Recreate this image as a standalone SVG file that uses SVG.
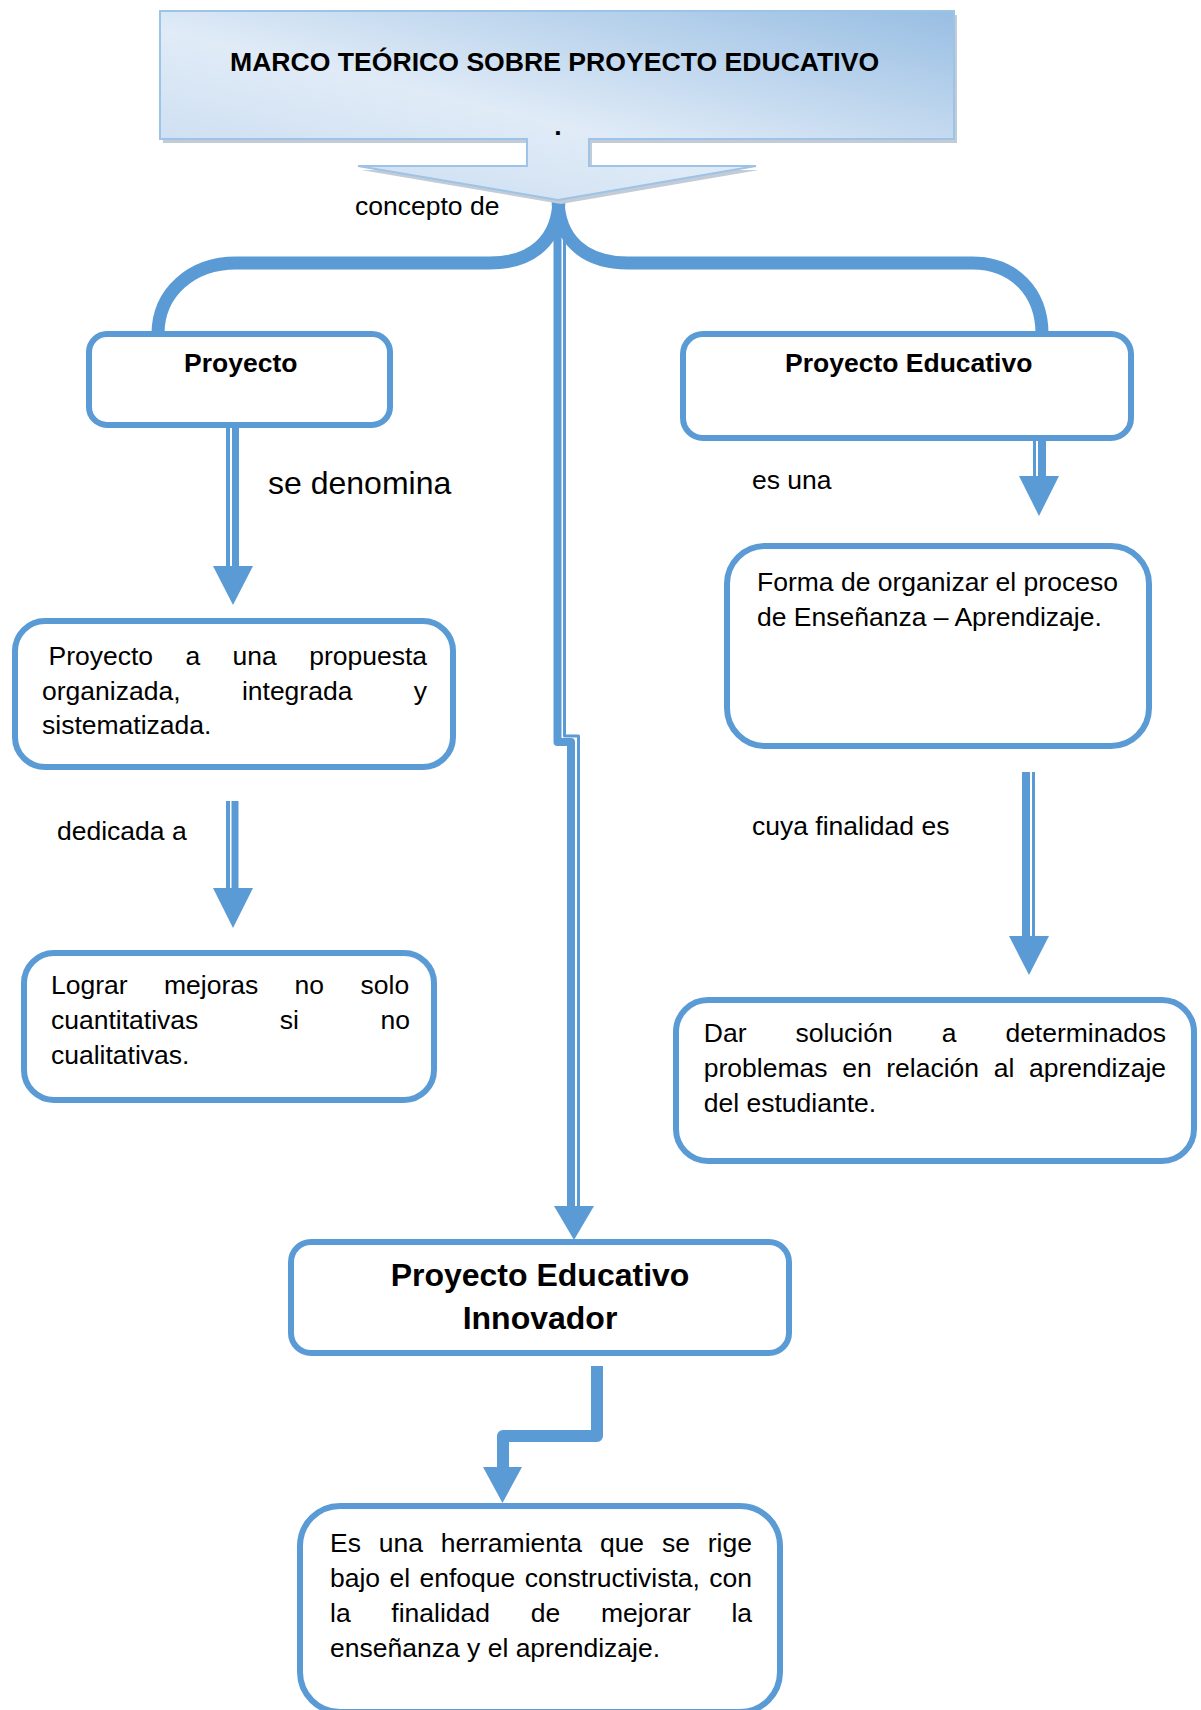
<svg xmlns="http://www.w3.org/2000/svg" width="1201" height="1710" viewBox="0 0 1201 1710">
<style>
.box{fill:#fff;stroke:#5b9bd5;stroke-width:6}
.t{font-family:"Liberation Sans",Arial,sans-serif;font-size:26.5px;fill:#000}
.b{font-weight:bold}
.big{font-size:32px}
.ttl{font-size:26.6px}
.ln{fill:none;stroke:#5b9bd5}
.ah{fill:#5b9bd5}
</style>
<defs>
<linearGradient id="tg" x1="0" y1="1" x2="1" y2="0">
<stop offset="0" stop-color="#c6daef"/>
<stop offset="0.45" stop-color="#e0ebf7"/>
<stop offset="1" stop-color="#98bee3"/>
</linearGradient>
</defs>
<rect width="1201" height="1710" fill="#fff"/>

<g id="connectors">
<path class="ln" stroke-width="13" d="M559,198 C559,240 532,263 490,263 H236 C192,263 158,292 158,334"/>
<path class="ln" stroke-width="13" d="M558,198 C558,240 585,263 628,263 H972 C1014,263 1042,292 1042,334"/>
<path class="ln" stroke-width="8" stroke-linejoin="round" d="M557.5,231 V742 H571 V1208"/>
<path class="ln" stroke-width="3" stroke-linejoin="round" d="M564.5,231 V736 H578.5 V1208"/>
<polygon class="ah" points="554,1206 594,1206 574,1240"/>
<path class="ln" stroke-width="4" d="M228,428 V568"/>
<path class="ln" stroke-width="7" d="M235.5,428 V568"/>
<polygon class="ah" points="213,566 253,566 233,605"/>
<path class="ln" stroke-width="3" d="M1034.5,441 V478"/>
<path class="ln" stroke-width="8" d="M1042,441 V478"/>
<polygon class="ah" points="1019,476 1059,476 1039,516"/>
<path class="ln" stroke-width="4" d="M228,801 V890"/>
<path class="ln" stroke-width="7" d="M235,801 V890"/>
<polygon class="ah" points="213,888 253,888 233,928"/>
<path class="ln" stroke-width="8" d="M1026,772 V938"/>
<path class="ln" stroke-width="3" d="M1033.5,772 V938"/>
<polygon class="ah" points="1009,936 1049,936 1029,975"/>
<path class="ln" stroke-width="12" stroke-linejoin="round" d="M597,1366 V1436 H503 V1470"/>
<polygon class="ah" points="483,1467 522,1467 502.5,1503"/>
</g>

<g id="title">
<path d="M163,15 H957 V143 H592 V170 H759 L561,204 L361,170 H530 V143 H163 Z" fill="#c3ccd6"/>
<path d="M160,11 H954 V139 H589 V166 H756 L558,200 L358,166 H527 V139 H160 Z" fill="url(#tg)" stroke="#9dc3e6" stroke-width="2"/>
<text class="t b ttl" x="230" y="71">MARCO TEÓRICO SOBRE PROYECTO EDUCATIVO</text>
<text class="t b" x="558" y="135" text-anchor="middle">.</text>
</g>

<g id="lbl-concepto"><text class="t" x="355" y="215">concepto de</text></g>

<g id="node-proyecto">
<rect class="box" x="89" y="334" width="301" height="91" rx="18"/>
<text class="t b" x="184" y="372">Proyecto</text>
</g>

<g id="node-pe">
<rect class="box" x="683" y="334" width="448" height="104" rx="20"/>
<text class="t b" x="785" y="372">Proyecto Educativo</text>
</g>

<g id="lbl-denomina"><text class="t big" x="268" y="494">se denomina</text></g>
<g id="lbl-esuna"><text class="t" x="752" y="489">es una</text></g>

<g id="node-propuesta">
<rect class="box" x="15" y="621" width="438" height="146" rx="30"/>
<text class="t"><tspan x="48.5" y="665">Proyecto</tspan><tspan x="185.5" y="665">a</tspan><tspan x="232.6" y="665">una</tspan><tspan x="309.2" y="665">propuesta</tspan><tspan x="42" y="699.5">organizada,</tspan><tspan x="241.9" y="699.5">integrada</tspan><tspan x="413.8" y="699.5">y</tspan><tspan x="42" y="734">sistematizada.</tspan></text>
</g>

<g id="node-forma">
<rect class="box" x="727" y="546" width="422" height="200" rx="38"/>
<text class="t"><tspan x="757" y="591">Forma de organizar el proceso</tspan><tspan x="757" y="626">de Enseñanza – Aprendizaje.</tspan></text>
</g>

<g id="lbl-dedicada"><text class="t" x="57" y="840">dedicada a</text></g>
<g id="lbl-cuya"><text class="t" x="752" y="835">cuya finalidad es</text></g>

<g id="node-lograr">
<rect class="box" x="24" y="953" width="410" height="147" rx="30"/>
<text class="t"><tspan x="51" y="994">Lograr</tspan><tspan x="164" y="994">mejoras</tspan><tspan x="294.6" y="994">no</tspan><tspan x="360.5" y="994">solo</tspan><tspan x="51" y="1029">cuantitativas</tspan><tspan x="279.8" y="1029">si</tspan><tspan x="380.4" y="1029">no</tspan><tspan x="51" y="1064">cualitativas.</tspan></text>
</g>

<g id="node-dar">
<rect class="box" x="676" y="1000" width="518" height="161" rx="32"/>
<text class="t"><tspan x="703.8" y="1042">Dar</tspan><tspan x="795.5" y="1042">solución</tspan><tspan x="941.7" y="1042">a</tspan><tspan x="1005.4" y="1042">determinados</tspan><tspan x="703.8" y="1077">problemas</tspan><tspan x="842.2" y="1077">en</tspan><tspan x="886.3" y="1077">relación</tspan><tspan x="993.8" y="1077">al</tspan><tspan x="1029" y="1077">aprendizaje</tspan><tspan x="703.8" y="1112">del estudiante.</tspan></text>
</g>

<g id="node-innovador">
<rect class="box" x="291" y="1242" width="498" height="111" rx="20"/>
<text class="t b big" text-anchor="middle"><tspan x="540" y="1286">Proyecto Educativo</tspan><tspan x="540" y="1329">Innovador</tspan></text>
</g>

<g id="node-herramienta">
<rect class="box" x="300" y="1506" width="480" height="206" rx="40"/>
<text class="t"><tspan x="330" y="1552">Es</tspan><tspan x="378.7" y="1552">una</tspan><tspan x="440.7" y="1552">herramienta</tspan><tspan x="599.9" y="1552">que</tspan><tspan x="661.9" y="1552">se</tspan><tspan x="707.7" y="1552">rige</tspan><tspan x="330" y="1587">bajo</tspan><tspan x="389.5" y="1587">el</tspan><tspan x="419.5" y="1587">enfoque</tspan><tspan x="524.7" y="1587">constructivista,</tspan><tspan x="709.3" y="1587">con</tspan><tspan x="330" y="1622">la</tspan><tspan x="391.3" y="1622">finalidad</tspan><tspan x="530.7" y="1622">de</tspan><tspan x="600.9" y="1622">mejorar</tspan><tspan x="731.4" y="1622">la</tspan><tspan x="330" y="1657">enseñanza y el aprendizaje.</tspan></text>
</g>
</svg>
